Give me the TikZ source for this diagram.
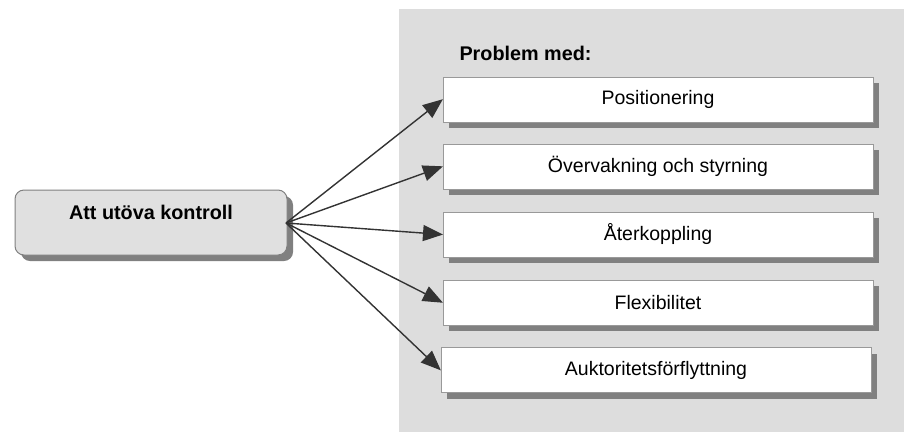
\documentclass[tikz,border=0pt]{standalone}
\usepackage{fontspec}
\setmainfont{Liberation Sans}
\usetikzlibrary{shadows,arrows.meta}
\definecolor{panelgray}{HTML}{DDDDDD}
\definecolor{shadowgray}{HTML}{808080}
\definecolor{framegray}{HTML}{999999}
\definecolor{linegray}{HTML}{333333}
\definecolor{startfill}{HTML}{E0E0E0}
\tikzset{
  problembox/.style={draw=framegray, line width=1pt, fill=white,
    minimum width=430pt, minimum height=45pt, inner sep=0pt,
    font=\fontsize{19.5}{21}\selectfont,
    drop shadow={shadow xshift=6pt, shadow yshift=-6pt, fill=shadowgray, opacity=1}},
  startbox/.style={draw=shadowgray, line width=1pt, fill=startfill, rounded corners=9pt,
    minimum width=272pt, minimum height=65pt, inner sep=0pt,
    drop shadow={shadow xshift=6pt, shadow yshift=-6pt, fill=shadowgray, opacity=1}},
  fanarrow/.style={draw=linegray, line width=1.4pt,
    -{Triangle[length=20pt,width=16pt]}, shorten >=-0.5pt},
  heading/.style={font=\bfseries\fontsize{19.8}{21}\selectfont}
}
\begin{document}
\begin{tikzpicture}[x=1pt,y=-1pt]
  \useasboundingbox (0,0) rectangle (904,432);
  % grey panel on the right
  \fill[panelgray] (399,9) rectangle (904,432);
  \node[heading, anchor=west] (title) at (456,53) {Problem med:};

  % the starting box
  \node[startbox] (start) at (151,222.5) {};
  \node[heading, anchor=center] (starttext) at (151,212) {Att utöva kontroll};

  % the five problem boxes
  \node[problembox] (p1) at (658,99.5) {Positionering};
  \node[problembox] (p2) at (658,166.5) {Övervakning och styrning};
  \node[problembox] (p3) at (658,234.5) {Återkoppling};
  \node[problembox] (p4) at (658,302.5) {Flexibilitet};
  \node[problembox] (p5) at (656,370) {Auktoritetsförflyttning};

  % fan of arrows
  \coordinate (fan) at (286,223);
  \foreach \b in {p1,p2,p3,p4,p5}
    \draw[fanarrow] (fan) -- (\b.west);
\end{tikzpicture}
\end{document}
